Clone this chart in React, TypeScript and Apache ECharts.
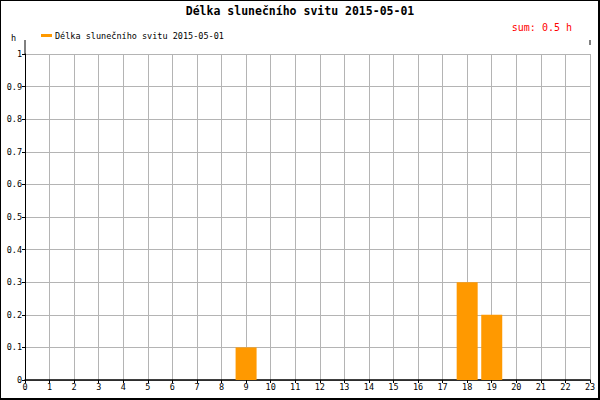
import React, { useEffect, useRef } from "react";
import * as echarts from "echarts";

const title = "Délka slunečního svitu 2015-05-01";
const seriesName = "Délka slunečního svitu 2015-05-01";
const sumLabel = "sum: 0.5 h";
const hours = [0, 1, 2, 3, 4, 5, 6, 7, 8, 9, 10, 11, 12, 13, 14, 15, 16, 17, 18, 19, 20, 21, 22, 23];
const sunshine = [0, 0, 0, 0, 0, 0, 0, 0, 0, 0.1, 0, 0, 0, 0, 0, 0, 0, 0, 0.3, 0.2, 0, 0, 0, 0];
const yTicks = [0, 0.1, 0.2, 0.3, 0.4, 0.5, 0.6, 0.7, 0.8, 0.9, 1];

const MONO = "'DejaVu Sans Mono', monospace";

export default function App() {
  const ref = useRef<HTMLDivElement>(null);
  useEffect(() => {
    document.body.style.margin = "0";
    const chart = echarts.init(ref.current!, null, { renderer: "svg" });
    const data = hours
      .map((h, i) => [h, sunshine[i]])
      .filter((d) => d[1] > 0);
    chart.setOption({
      animation: false,
      backgroundColor: "#ffffff",
      title: {
        text: title,
        left: "center",
        top: 0,
        textStyle: { fontFamily: MONO, fontSize: 11.5, fontWeight: "bold", color: "#000" },
      },
      legend: {
        left: 36,
        top: 26,
        icon: "rect",
        itemWidth: 11,
        itemHeight: 3,
        itemGap: 4,
        textStyle: { fontFamily: MONO, fontSize: 8.5, color: "#000", padding: [0, 0, 0, -2] },
        data: [seriesName],
      },
      grid: { left: 25, right: 10, top: 54, bottom: 20, containLabel: false },
      xAxis: {
        type: "value",
        min: 0,
        max: 23,
        interval: 1,
        axisLine: { show: true, onZero: false, lineStyle: { color: "#000", width: 1.5 } },
        axisTick: { show: true, length: 3, lineStyle: { color: "#000" } },
        axisLabel: { fontFamily: MONO, fontSize: 8.5, color: "#000", margin: 2 },
        splitLine: { show: true, lineStyle: { color: "#b4b4b4", width: 1 } },
      },
      yAxis: {
        type: "value",
        min: 0,
        max: 1,
        interval: 0.1,
        name: "h",
        nameLocation: "end",
        nameGap: 12,
        nameTextStyle: { fontFamily: MONO, fontSize: 8.5, color: "#000", align: "right", padding: [0, 9, 0, 0] },
        axisLine: { show: true, lineStyle: { color: "#000", width: 1 } },
        axisTick: { show: true, length: 3, lineStyle: { color: "#000" } },
        axisLabel: {
          fontFamily: MONO,
          fontSize: 8.5,
          color: "#000",
          margin: 3,
          formatter: (v: number) => {
            const t = yTicks.find((y) => Math.abs(y - v) < 1e-9);
            return t === undefined ? "" : String(t);
          },
        },
        splitLine: { show: true, lineStyle: { color: "#b4b4b4", width: 1 } },
      },
      series: [
        {
          name: seriesName,
          type: "bar",
          data,
          barWidth: 21,
          itemStyle: { color: "#ff9900" },
        },
      ],
      graphic: [
        {
          type: "text",
          right: 28,
          top: 22,
          style: { text: sumLabel, fontFamily: MONO, fontSize: 10, fill: "#ff0000" },
        },
        { type: "line", shape: { x1: 25, y1: 40, x2: 25, y2: 54 }, style: { stroke: "#000", lineWidth: 1 } },
        { type: "line", shape: { x1: 590, y1: 40, x2: 590, y2: 45 }, style: { stroke: "#000", lineWidth: 1 } },
        { type: "line", shape: { x1: 0, y1: 0.5, x2: 600, y2: 0.5 }, style: { stroke: "#000", lineWidth: 1 } },
        { type: "line", shape: { x1: 0.5, y1: 0, x2: 0.5, y2: 400 }, style: { stroke: "#000", lineWidth: 1 } },
        { type: "line", shape: { x1: 599, y1: 0, x2: 599, y2: 400 }, style: { stroke: "#000", lineWidth: 2 } },
        { type: "line", shape: { x1: 0, y1: 399, x2: 600, y2: 399 }, style: { stroke: "#000", lineWidth: 2 } },
      ],
    });
    return () => chart.dispose();
  }, []);
  return <div ref={ref} style={{ width: 600, height: 400 }} />;
}
